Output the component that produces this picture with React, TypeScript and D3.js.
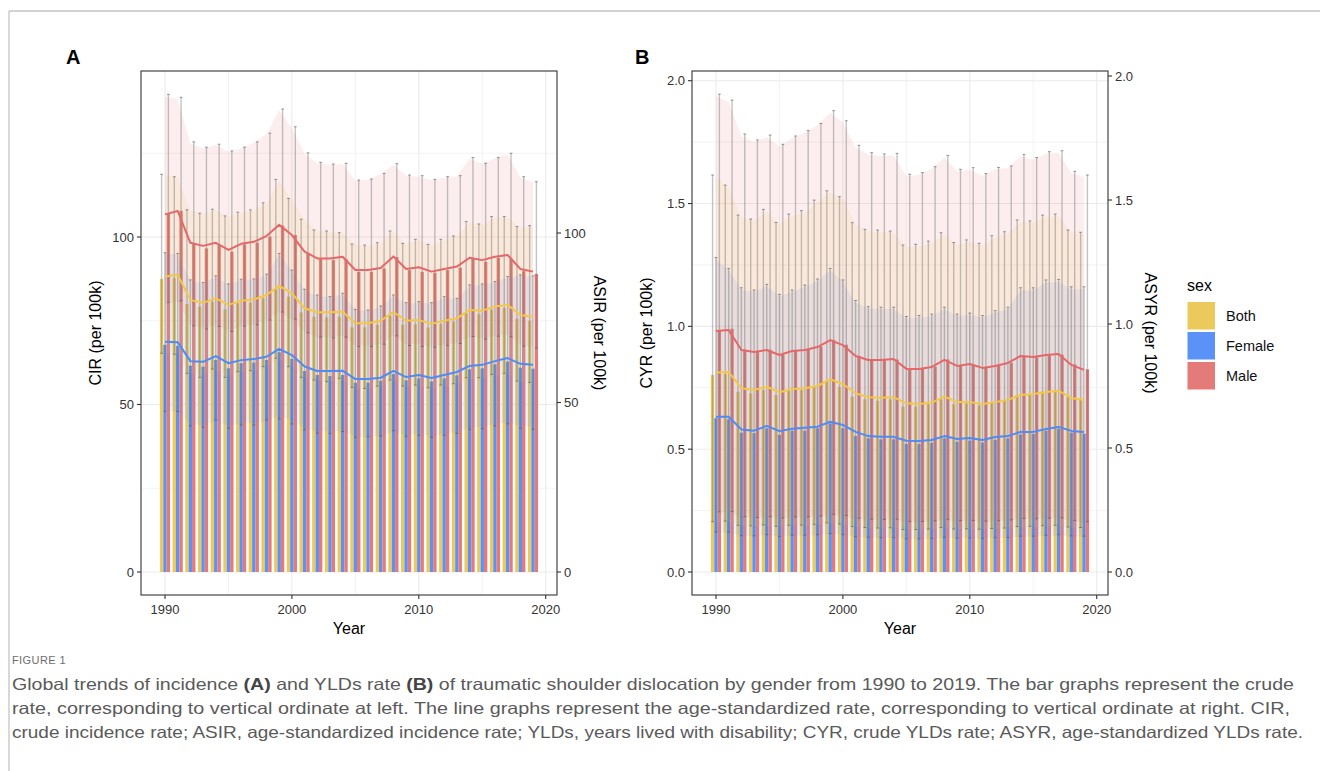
import React from "react";
import * as d3 from "d3";

// ---------- categories ----------
const YEARS = d3.range(1990, 2020);
const SEXES = ["Both", "Female", "Male"];
const X_TICKS = [1990, 2000, 2010, 2020];
const X_MINOR = [1995, 2005, 2015];
const A_TICKS = [0, 50, 100];
const A_MINOR = [25, 75, 125];
const B_TICKS = [0, 0.5, 1.0, 1.5, 2.0];
const B_MINOR = [0.25, 0.75, 1.25, 1.75];

// ---------- Panel A: incidence (crude = bars, age-standardized = lines) ----------
const A_BOTH_CR = [87.5, 87.7, 80.0, 79.2, 80.7, 78.4, 80.2, 80.4, 81.7, 84.5, 82.2, 77.5, 76.2, 76.0, 76.2, 73.0, 73.0, 73.8, 76.5, 73.8, 74.0, 73.0, 74.0, 74.7, 77.3, 77.0, 78.3, 78.8, 75.6, 75.0];
const A_BOTH_CR_LO = [65.3, 65.0, 59.3, 58.1, 60.6, 58.1, 59.8, 60.1, 61.3, 63.8, 61.3, 58.1, 57.3, 56.8, 57.8, 55.1, 54.8, 55.5, 57.3, 55.5, 55.8, 55.0, 55.8, 56.2, 58.0, 58.0, 59.0, 59.3, 57.0, 56.6];
const A_BOTH_CR_HI = [118.7, 118.0, 108.1, 107.1, 108.3, 106.3, 107.4, 108.1, 110.2, 117.2, 111.5, 105.3, 102.1, 101.8, 101.3, 97.9, 97.6, 98.3, 101.8, 98.1, 99.3, 97.8, 99.3, 100.3, 104.6, 103.9, 106.1, 106.1, 103.1, 103.4];
const A_FEM_CR = [67.8, 67.5, 61.6, 61.3, 63.3, 60.8, 62.3, 62.5, 63.3, 65.6, 63.6, 60.0, 58.8, 58.5, 58.8, 56.5, 56.5, 57.1, 59.1, 57.2, 57.8, 56.9, 57.8, 58.7, 60.5, 60.8, 62.0, 62.8, 61.0, 60.7];
const A_FEM_CR_LO = [47.9, 47.9, 43.6, 43.2, 45.4, 42.9, 43.9, 43.9, 45.4, 45.7, 44.2, 42.4, 41.4, 41.4, 41.9, 40.2, 40.4, 40.6, 42.2, 40.5, 40.8, 40.2, 40.8, 41.4, 42.6, 42.8, 43.6, 44.2, 42.9, 42.6];
const A_FEM_CR_HI = [95.3, 95.1, 87.2, 86.4, 88.4, 86.0, 87.4, 87.5, 88.9, 95.1, 90.1, 84.4, 82.7, 82.2, 83.2, 78.4, 78.2, 79.4, 82.7, 80.4, 80.7, 80.4, 82.2, 81.7, 85.7, 86.0, 86.7, 88.2, 88.7, 88.4];
const A_MALE_CR = [107.1, 107.8, 98.1, 96.6, 97.6, 95.6, 97.8, 98.3, 100.1, 103.4, 100.6, 95.1, 93.4, 93.1, 93.4, 89.6, 89.6, 90.6, 94.0, 90.1, 89.6, 89.3, 90.1, 90.8, 93.6, 92.6, 93.8, 93.5, 89.8, 89.0];
const A_MALE_CR_LO = [80.5, 81.0, 73.5, 72.5, 73.3, 71.8, 73.4, 73.8, 75.2, 77.6, 75.5, 71.4, 70.1, 69.9, 70.1, 67.3, 67.3, 68.0, 70.5, 67.6, 67.3, 67.0, 67.6, 68.2, 70.3, 69.5, 70.4, 70.2, 67.4, 66.8];
const A_MALE_CR_HI = [142.6, 141.7, 128.4, 126.8, 127.7, 125.7, 126.8, 128.4, 131.0, 138.2, 132.9, 125.1, 122.3, 121.8, 122.0, 117.0, 117.3, 119.0, 121.9, 118.5, 118.3, 117.2, 118.0, 118.3, 123.7, 122.0, 123.7, 125.0, 118.0, 116.5];

const A_BOTH_AS = [87.2, 87.7, 80.2, 79.4, 80.7, 78.8, 80.0, 80.4, 81.7, 84.4, 82.2, 77.8, 76.6, 76.6, 76.8, 73.4, 73.4, 74.1, 76.7, 74.1, 74.3, 73.2, 74.1, 74.8, 77.3, 77.1, 78.3, 78.8, 75.8, 75.3];
const A_BOTH_AS_LO = [64.5, 64.7, 58.8, 58.0, 59.5, 57.8, 59.0, 59.3, 60.4, 62.9, 60.7, 57.3, 56.4, 56.2, 56.4, 54.1, 54.0, 54.6, 56.5, 54.6, 54.8, 54.0, 54.7, 55.2, 57.0, 56.9, 57.8, 58.2, 56.0, 55.6];
const A_BOTH_AS_HI = [117.0, 116.3, 106.6, 105.6, 106.8, 104.8, 105.9, 106.6, 108.6, 115.5, 109.9, 103.8, 100.7, 100.4, 99.9, 96.5, 96.2, 96.9, 100.4, 96.7, 97.9, 96.4, 97.9, 98.9, 103.1, 102.4, 104.6, 104.6, 101.6, 101.9];
const A_FEM_AS = [67.9, 67.8, 62.2, 62.0, 63.7, 61.6, 62.5, 62.8, 63.5, 65.8, 64.0, 60.6, 59.3, 59.3, 59.4, 56.9, 56.9, 57.3, 59.3, 57.5, 58.1, 57.2, 58.1, 59.0, 60.8, 61.1, 62.2, 63.1, 61.4, 61.1];
const A_FEM_AS_LO = [47.5, 47.4, 43.5, 43.3, 44.5, 43.0, 43.8, 44.0, 44.5, 46.0, 44.8, 42.4, 41.5, 41.5, 41.6, 39.8, 39.8, 40.1, 41.5, 40.2, 40.7, 40.0, 40.7, 41.3, 42.6, 42.8, 43.5, 44.2, 43.0, 42.8];
const A_FEM_AS_HI = [93.9, 93.7, 85.9, 85.1, 87.1, 84.7, 86.1, 86.2, 87.6, 93.7, 88.8, 83.1, 81.5, 81.0, 82.0, 77.3, 77.1, 78.2, 81.5, 79.2, 79.5, 79.2, 81.0, 80.5, 84.4, 84.7, 85.4, 86.9, 87.4, 87.1];
const A_MALE_AS = [105.5, 106.5, 97.1, 96.2, 97.1, 95.0, 96.8, 97.4, 99.1, 102.4, 99.4, 94.5, 92.5, 92.5, 93.0, 89.1, 89.1, 89.7, 93.1, 89.4, 89.9, 88.6, 89.4, 90.1, 92.7, 92.0, 93.0, 93.5, 89.4, 88.6];
const A_MALE_AS_LO = [79.0, 79.8, 72.8, 72.0, 72.8, 71.2, 72.6, 73.0, 74.3, 76.8, 74.5, 70.8, 69.3, 69.3, 69.7, 66.8, 66.8, 67.2, 69.8, 67.0, 67.4, 66.4, 67.0, 67.5, 69.5, 69.0, 69.7, 70.1, 67.0, 66.4];
const A_MALE_AS_HI = [140.3, 139.5, 126.5, 125.0, 126.0, 124.0, 125.0, 126.6, 129.2, 136.2, 131.0, 123.3, 120.6, 120.1, 120.3, 115.4, 115.7, 117.4, 120.1, 116.9, 116.7, 115.6, 116.4, 116.7, 122.0, 120.4, 122.0, 123.3, 116.4, 115.0];

// ---------- Panel B: YLDs rate ----------
const B_BOTH_CR = [0.802, 0.806, 0.734, 0.727, 0.741, 0.721, 0.738, 0.741, 0.754, 0.778, 0.754, 0.714, 0.703, 0.697, 0.703, 0.673, 0.673, 0.683, 0.703, 0.683, 0.686, 0.678, 0.688, 0.698, 0.720, 0.724, 0.735, 0.740, 0.712, 0.705];
const B_BOTH_CR_LO = [0.205, 0.207, 0.190, 0.188, 0.192, 0.186, 0.190, 0.191, 0.194, 0.200, 0.195, 0.185, 0.181, 0.179, 0.180, 0.173, 0.173, 0.175, 0.181, 0.175, 0.176, 0.174, 0.177, 0.179, 0.185, 0.186, 0.189, 0.190, 0.183, 0.181];
const B_BOTH_CR_HI = [1.616, 1.575, 1.453, 1.437, 1.476, 1.423, 1.457, 1.471, 1.514, 1.552, 1.528, 1.422, 1.395, 1.392, 1.388, 1.331, 1.334, 1.347, 1.381, 1.341, 1.352, 1.338, 1.369, 1.385, 1.433, 1.429, 1.453, 1.457, 1.392, 1.383];
const B_FEM_CR = [0.626, 0.622, 0.567, 0.565, 0.585, 0.558, 0.575, 0.575, 0.585, 0.605, 0.585, 0.554, 0.544, 0.540, 0.540, 0.521, 0.521, 0.526, 0.544, 0.530, 0.535, 0.527, 0.538, 0.544, 0.560, 0.562, 0.575, 0.583, 0.567, 0.563];
const B_FEM_CR_LO = [0.163, 0.162, 0.148, 0.147, 0.152, 0.145, 0.150, 0.150, 0.152, 0.157, 0.152, 0.144, 0.141, 0.140, 0.140, 0.135, 0.135, 0.137, 0.141, 0.138, 0.139, 0.137, 0.140, 0.141, 0.146, 0.146, 0.150, 0.152, 0.147, 0.146];
const B_FEM_CR_HI = [1.280, 1.236, 1.157, 1.148, 1.171, 1.130, 1.148, 1.168, 1.193, 1.236, 1.189, 1.105, 1.080, 1.078, 1.078, 1.040, 1.044, 1.050, 1.078, 1.050, 1.054, 1.044, 1.064, 1.078, 1.157, 1.157, 1.189, 1.191, 1.161, 1.161];
const B_MALE_CR = [0.985, 0.990, 0.905, 0.895, 0.905, 0.885, 0.900, 0.905, 0.918, 0.945, 0.925, 0.880, 0.865, 0.863, 0.865, 0.827, 0.827, 0.836, 0.865, 0.840, 0.846, 0.832, 0.842, 0.852, 0.878, 0.874, 0.882, 0.885, 0.845, 0.825];
const B_MALE_CR_LO = [0.245, 0.246, 0.225, 0.222, 0.225, 0.220, 0.224, 0.225, 0.228, 0.235, 0.230, 0.219, 0.215, 0.214, 0.215, 0.206, 0.206, 0.208, 0.215, 0.209, 0.210, 0.207, 0.209, 0.212, 0.218, 0.217, 0.219, 0.220, 0.210, 0.205];
const B_MALE_CR_HI = [1.945, 1.921, 1.783, 1.759, 1.779, 1.741, 1.775, 1.797, 1.826, 1.878, 1.837, 1.737, 1.707, 1.702, 1.704, 1.619, 1.626, 1.650, 1.696, 1.639, 1.646, 1.622, 1.647, 1.653, 1.700, 1.687, 1.711, 1.715, 1.631, 1.616];

const B_BOTH_AS = [0.804, 0.806, 0.741, 0.734, 0.747, 0.725, 0.738, 0.741, 0.750, 0.777, 0.758, 0.721, 0.705, 0.703, 0.705, 0.680, 0.677, 0.683, 0.707, 0.685, 0.685, 0.677, 0.685, 0.694, 0.714, 0.718, 0.726, 0.730, 0.702, 0.694];
const B_BOTH_AS_LO = [0.202, 0.203, 0.187, 0.185, 0.189, 0.183, 0.186, 0.187, 0.190, 0.196, 0.191, 0.182, 0.178, 0.177, 0.178, 0.171, 0.171, 0.172, 0.178, 0.173, 0.173, 0.171, 0.173, 0.175, 0.180, 0.181, 0.183, 0.184, 0.177, 0.175];
const B_BOTH_AS_HI = [1.593, 1.552, 1.431, 1.415, 1.454, 1.402, 1.435, 1.449, 1.492, 1.529, 1.505, 1.400, 1.374, 1.371, 1.367, 1.310, 1.313, 1.327, 1.360, 1.320, 1.331, 1.317, 1.348, 1.364, 1.411, 1.407, 1.431, 1.435, 1.371, 1.362];
const B_FEM_AS = [0.626, 0.626, 0.575, 0.570, 0.589, 0.568, 0.578, 0.582, 0.586, 0.606, 0.593, 0.565, 0.548, 0.545, 0.545, 0.529, 0.528, 0.532, 0.548, 0.536, 0.540, 0.532, 0.544, 0.548, 0.565, 0.565, 0.577, 0.585, 0.569, 0.565];
const B_FEM_AS_LO = [0.158, 0.158, 0.145, 0.144, 0.149, 0.143, 0.146, 0.147, 0.148, 0.153, 0.150, 0.142, 0.138, 0.137, 0.137, 0.133, 0.133, 0.134, 0.138, 0.135, 0.136, 0.134, 0.137, 0.138, 0.142, 0.142, 0.145, 0.147, 0.143, 0.142];
const B_FEM_AS_HI = [1.259, 1.217, 1.138, 1.129, 1.152, 1.112, 1.129, 1.149, 1.173, 1.217, 1.169, 1.086, 1.062, 1.060, 1.060, 1.022, 1.026, 1.032, 1.060, 1.032, 1.036, 1.026, 1.045, 1.060, 1.135, 1.135, 1.167, 1.169, 1.140, 1.140];
const B_MALE_AS = [0.972, 0.976, 0.895, 0.887, 0.895, 0.875, 0.891, 0.895, 0.907, 0.935, 0.915, 0.871, 0.855, 0.855, 0.859, 0.819, 0.819, 0.827, 0.855, 0.831, 0.839, 0.823, 0.831, 0.843, 0.871, 0.867, 0.875, 0.879, 0.835, 0.815];
const B_MALE_AS_LO = [0.240, 0.241, 0.221, 0.219, 0.221, 0.216, 0.220, 0.221, 0.224, 0.231, 0.226, 0.215, 0.211, 0.211, 0.212, 0.202, 0.202, 0.204, 0.211, 0.205, 0.207, 0.203, 0.205, 0.208, 0.215, 0.214, 0.216, 0.217, 0.206, 0.201];
const B_MALE_AS_HI = [1.918, 1.895, 1.758, 1.734, 1.754, 1.716, 1.750, 1.771, 1.801, 1.852, 1.812, 1.712, 1.683, 1.677, 1.680, 1.596, 1.602, 1.626, 1.672, 1.616, 1.622, 1.598, 1.624, 1.629, 1.676, 1.662, 1.687, 1.691, 1.608, 1.593];

const FILL: Record<string, string> = { Both: "#ECC95B", Female: "#5B92F8", Male: "#E47B79" };
const LINE: Record<string, string> = { Both: "#F3C844", Female: "#4E8BF6", Male: "#E5676A" };
const FONT = "'Liberation Sans', Arial, Helvetica, sans-serif";

type Series = { cr: number[]; crLo: number[]; crHi: number[]; as: number[]; asLo: number[]; asHi: number[] };

const A_DATA: Record<string, Series> = {
  Both: { cr: A_BOTH_CR, crLo: A_BOTH_CR_LO, crHi: A_BOTH_CR_HI, as: A_BOTH_AS, asLo: A_BOTH_AS_LO, asHi: A_BOTH_AS_HI },
  Female: { cr: A_FEM_CR, crLo: A_FEM_CR_LO, crHi: A_FEM_CR_HI, as: A_FEM_AS, asLo: A_FEM_AS_LO, asHi: A_FEM_AS_HI },
  Male: { cr: A_MALE_CR, crLo: A_MALE_CR_LO, crHi: A_MALE_CR_HI, as: A_MALE_AS, asLo: A_MALE_AS_LO, asHi: A_MALE_AS_HI },
};
const B_DATA: Record<string, Series> = {
  Both: { cr: B_BOTH_CR, crLo: B_BOTH_CR_LO, crHi: B_BOTH_CR_HI, as: B_BOTH_AS, asLo: B_BOTH_AS_LO, asHi: B_BOTH_AS_HI },
  Female: { cr: B_FEM_CR, crLo: B_FEM_CR_LO, crHi: B_FEM_CR_HI, as: B_FEM_AS, asLo: B_FEM_AS_LO, asHi: B_FEM_AS_HI },
  Male: { cr: B_MALE_CR, crLo: B_MALE_CR_LO, crHi: B_MALE_CR_HI, as: B_MALE_AS, asLo: B_MALE_AS_LO, asHi: B_MALE_AS_HI },
};

const TOP = 71;
const BOTTOM = 595;

type PanelProps = {
  left: number;
  right: number;
  label: string;
  labelX: number;
  data: Record<string, Series>;
  yL: d3.ScaleLinear<number, number>;
  yR: d3.ScaleLinear<number, number>;
  ticks: number[];
  minor: number[];
  fmt: (n: number) => string;
  titleL: string;
  titleR: string;
};

function Panel({ left, right, label, labelX, data, yL, yR, ticks, minor, fmt, titleL, titleR }: PanelProps) {
  const x = d3.scaleLinear().domain([1988.11, 2020.89]).range([left, right]);
  const dodge = 0.8 / 3;
  const bw = x(1990 + dodge) - x(1990);
  const cx = (year: number, i: number) => x(year + (i - 1) * dodge);
  const midX = (left + right) / 2;
  const midY = (TOP + BOTTOM) / 2;
  const clipId = "clip-" + label;

  return (
    <g>
      <defs>
        <clipPath id={clipId}>
          <rect x={left} y={TOP} width={right - left} height={BOTTOM - TOP} />
        </clipPath>
      </defs>
      <rect x={left} y={TOP} width={right - left} height={BOTTOM - TOP} fill="#fff" />
      {/* grid */}
      {minor.map((t) => (
        <line key={"hm" + t} x1={left} x2={right} y1={yL(t)} y2={yL(t)} stroke="#EBEBEB" strokeWidth={0.6} />
      ))}
      {X_MINOR.map((t) => (
        <line key={"vm" + t} y1={TOP} y2={BOTTOM} x1={x(t)} x2={x(t)} stroke="#EBEBEB" strokeWidth={0.6} />
      ))}
      {ticks.map((t) => (
        <line key={"hM" + t} x1={left} x2={right} y1={yL(t)} y2={yL(t)} stroke="#EBEBEB" strokeWidth={1.1} />
      ))}
      {X_TICKS.map((t) => (
        <line key={"vM" + t} y1={TOP} y2={BOTTOM} x1={x(t)} x2={x(t)} stroke="#EBEBEB" strokeWidth={1.1} />
      ))}
      <g clipPath={`url(#${clipId})`}>
        {/* bars */}
        {SEXES.map((s, i) =>
          YEARS.map((yr, j) => {
            const v = data[s].cr[j];
            return (
              <rect
                key={s + yr}
                x={cx(yr, i) - bw / 2}
                width={bw}
                y={yL(v)}
                height={yL(0) - yL(v)}
                fill={FILL[s]}
              />
            );
          })
        )}
        {/* ribbons */}
        {SEXES.map((s) => {
          const area = d3
            .area<number>()
            .x((_, j) => x(YEARS[j]))
            .y0((_, j) => yR(data[s].asLo[j]))
            .y1((_, j) => yR(data[s].asHi[j]));
          return <path key={"rib" + s} d={area(data[s].as) || ""} fill={FILL[s]} fillOpacity={0.13} stroke="none" />;
        })}
        {/* error bars */}
        {SEXES.map((s, i) =>
          YEARS.map((yr, j) => {
            const c = cx(yr, i);
            const lo = yL(data[s].crLo[j]);
            const hi = yL(data[s].crHi[j]);
            return (
              <g key={"eb" + s + yr}>
                <line x1={c} x2={c} y1={lo} y2={hi} stroke="#6f6f6f" strokeOpacity={0.42} strokeWidth={1.4} />
                <line x1={c - 1.4} x2={c + 1.4} y1={hi} y2={hi} stroke="#555" strokeOpacity={0.6} strokeWidth={1} />
                <line x1={c - 1.4} x2={c + 1.4} y1={lo} y2={lo} stroke="#555" strokeOpacity={0.6} strokeWidth={1} />
              </g>
            );
          })
        )}
        {/* lines */}
        {SEXES.map((s) => {
          const line = d3
            .line<number>()
            .x((_, j) => x(YEARS[j]))
            .y((v) => yR(v));
          return <path key={"ln" + s} d={line(data[s].as) || ""} fill="none" stroke={LINE[s]} strokeWidth={2} strokeLinejoin="round" />;
        })}
      </g>
      {/* border */}
      <rect x={left} y={TOP} width={right - left} height={BOTTOM - TOP} fill="none" stroke="#333" strokeWidth={1.1} />
      {/* left axis */}
      {ticks.map((t) => (
        <g key={"lt" + t}>
          <line x1={left - 4} x2={left} y1={yL(t)} y2={yL(t)} stroke="#333" strokeWidth={1.1} />
          <text x={left - 7} y={yL(t)} dy="0.35em" textAnchor="end" fontSize={13} fill="#333" fontFamily={FONT}>
            {fmt(t)}
          </text>
        </g>
      ))}
      {/* right axis */}
      {ticks.map((t) => (
        <g key={"rt" + t}>
          <line x1={right} x2={right + 4} y1={yR(t)} y2={yR(t)} stroke="#333" strokeWidth={1.1} />
          <text x={right + 7} y={yR(t)} dy="0.35em" textAnchor="start" fontSize={13} fill="#333" fontFamily={FONT}>
            {fmt(t)}
          </text>
        </g>
      ))}
      {/* x axis */}
      {X_TICKS.map((t) => (
        <g key={"xt" + t}>
          <line x1={x(t)} x2={x(t)} y1={BOTTOM} y2={BOTTOM + 4} stroke="#333" strokeWidth={1.1} />
          <text x={x(t)} y={BOTTOM + 14} dy="0.35em" textAnchor="middle" fontSize={13} fill="#333" fontFamily={FONT}>
            {t}
          </text>
        </g>
      ))}
      <text x={midX} y={634} textAnchor="middle" fontSize={16} fill="#000" fontFamily={FONT}>
        Year
      </text>
      <text
        transform={`translate(${left - 46},${midY}) rotate(-90)`}
        textAnchor="middle"
        dy="0.35em"
        fontSize={16}
        fill="#000"
        fontFamily={FONT}
      >
        {titleL}
      </text>
      <text
        transform={`translate(${right + 43},${midY}) rotate(90)`}
        textAnchor="middle"
        dy="0.35em"
        fontSize={16}
        fill="#000"
        fontFamily={FONT}
      >
        {titleR}
      </text>
      <text x={labelX} y={64} fontSize={20} fontWeight="bold" fill="#000" fontFamily={FONT}>
        {label}
      </text>
    </g>
  );
}

export default function App() {
  const aYL = d3.scaleLinear().domain([0, 100]).range([572, 237]);
  const aYR = d3.scaleLinear().domain([0, 100]).range([572, 233]);
  const bYL = d3.scaleLinear().domain([0, 2]).range([572, 80.7]);
  const bYR = d3.scaleLinear().domain([0, 2]).range([572, 76]);
  const fmtA = d3.format("d");
  const fmtB = d3.format(".1f");
  const capFont = "'Liberation Sans', Arial, sans-serif";

  return (
    <svg
      width={1320}
      height={771}
      style={{ position: "fixed", left: 0, top: 0, background: "#fff" }}
      xmlns="http://www.w3.org/2000/svg"
    >
      <rect x={0} y={0} width={1320} height={771} fill="#fff" />
      {/* figure frame */}
      <line x1={9} x2={1320} y1={11} y2={11} stroke="#c4c4c4" strokeWidth={1.3} />
      <line x1={9} x2={9} y1={11} y2={771} stroke="#c4c4c4" strokeWidth={1.3} />

      <Panel
        left={141}
        right={557}
        label="A"
        labelX={66}
        data={A_DATA}
        yL={aYL}
        yR={aYR}
        ticks={A_TICKS}
        minor={A_MINOR}
        fmt={fmtA}
        titleL="CIR (per 100k)"
        titleR="ASIR (per 100k)"
      />
      <Panel
        left={692}
        right={1108}
        label="B"
        labelX={635}
        data={B_DATA}
        yL={bYL}
        yR={bYR}
        ticks={B_TICKS}
        minor={B_MINOR}
        fmt={fmtB}
        titleL="CYR (per 100k)"
        titleR="ASYR (per 100k)"
      />

      {/* legend */}
      <text x={1187} y={291} fontSize={16} fill="#000" fontFamily={FONT}>
        sex
      </text>
      {SEXES.map((s, i) => (
        <g key={"lg" + s}>
          <rect x={1187.5} y={302 + i * 30} width={27.5} height={27.5} fill={FILL[s]} />
          <text x={1226} y={316 + i * 30} dy="0.35em" fontSize={14.5} fill="#111" fontFamily={FONT}>
            {s}
          </text>
        </g>
      ))}

      {/* caption */}
      <text x={12} y={664} fontSize={11} fill="#6d6d6d" fontFamily={capFont} letterSpacing={0.4}>
        FIGURE 1
      </text>
      <text x={12} y={690} fontSize={16.5} fill="#5a5a5a" fontFamily={capFont} textLength={1282} lengthAdjust="spacingAndGlyphs">
        Global trends of incidence <tspan fontWeight="bold" fill="#444">(A)</tspan> and YLDs rate{" "}
        <tspan fontWeight="bold" fill="#444">(B)</tspan> of traumatic shoulder dislocation by gender from 1990 to 2019. The bar graphs represent the crude
      </text>
      <text x={12} y={714} fontSize={16.5} fill="#5a5a5a" fontFamily={capFont} textLength={1278} lengthAdjust="spacingAndGlyphs">
        rate, corresponding to vertical ordinate at left. The line graphs represent the age-standardized rate, corresponding to vertical ordinate at right. CIR,
      </text>
      <text x={12} y={738} fontSize={16.5} fill="#5a5a5a" fontFamily={capFont} textLength={1291} lengthAdjust="spacingAndGlyphs">
        crude incidence rate; ASIR, age-standardized incidence rate; YLDs, years lived with disability; CYR, crude YLDs rate; ASYR, age-standardized YLDs rate.
      </text>
    </svg>
  );
}
